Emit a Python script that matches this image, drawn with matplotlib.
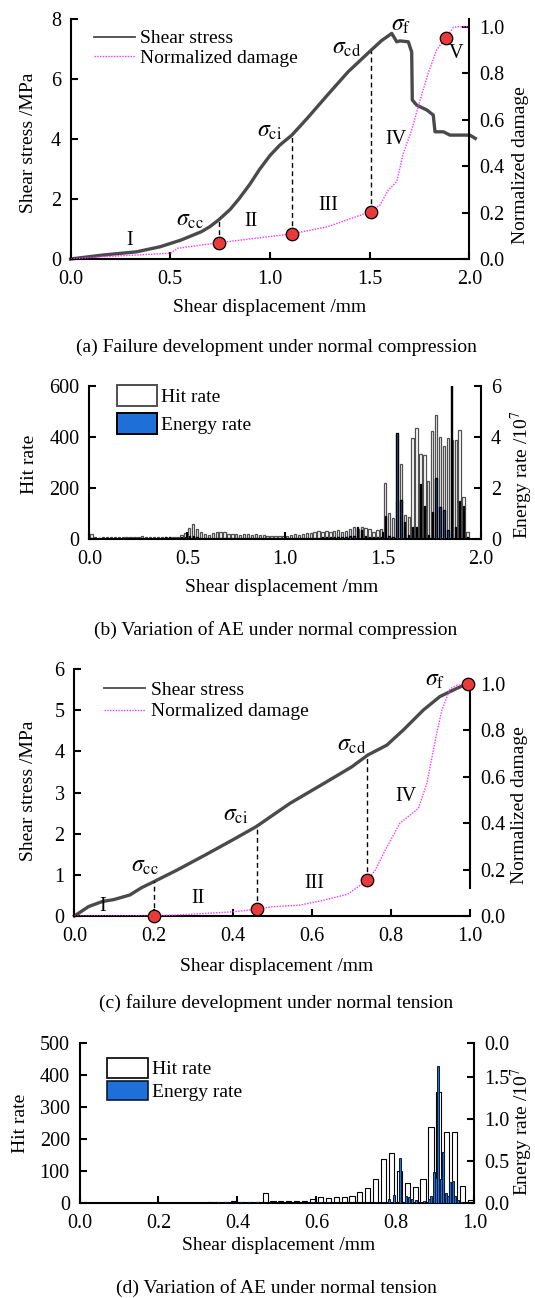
import numpy as np
import matplotlib
matplotlib.use('Agg')
import matplotlib.pyplot as plt
from matplotlib.lines import Line2D

plt.rcParams['font.family'] = ['Liberation Serif', 'DejaVu Serif']
plt.rcParams['mathtext.fontset'] = 'stix'
plt.rcParams['font.size'] = 14

# ---- (a) normal compression : shear stress and damage ----
disp_a = [0.0, 0.159, 0.331, 0.45, 0.553, 0.656, 0.699, 0.742, 0.80, 0.844, 0.90, 0.947,
          1.0, 1.05, 1.11, 1.187, 1.289, 1.392, 1.509, 1.56, 1.611, 1.636, 1.652, 1.694,
          1.711, 1.714, 1.736, 1.786, 1.819, 1.828, 1.87, 1.903, 2.003, 2.03]
stress_a = [0.0, 0.13, 0.24, 0.41, 0.63, 0.91, 1.08, 1.30, 1.65, 2.0, 2.5, 2.98,
            3.45, 3.8, 4.13, 4.69, 5.47, 6.24, 6.97, 7.28, 7.52, 7.24, 7.27, 7.24,
            6.9, 5.3, 5.13, 4.97, 4.8, 4.24, 4.24, 4.13, 4.13, 4.02]
dmg_disp_a = [0.0, 0.159, 0.35, 0.502, 0.536, 0.742, 1.11, 1.289, 1.505, 1.552, 1.594, 1.636,
              1.669, 1.711, 1.753, 1.794, 1.836, 1.883, 1.92, 1.945, 2.0]
dmg_a = [0.0, 0.01, 0.018, 0.025, 0.046, 0.07, 0.108, 0.139, 0.204, 0.232, 0.297, 0.333,
         0.455, 0.555, 0.684, 0.80, 0.90, 0.953, 0.997, 1.0, 1.0]
key_disp_a = [0.742, 1.11, 1.505, 1.883]
key_dmg_a = [0.07, 0.108, 0.204, 0.953]

# ---- (b) AE under normal compression ----
bins_b = np.round(np.arange(0.01, 1.94, 0.02), 2)
hits_b = [17, 5, 4, 5, 6, 6, 7, 6, 8, 8, 7, 8, 8, 9, 7, 6, 6, 7, 5, 6, 7, 5, 6,
          14, 22, 40, 58, 38, 25, 19, 16, 22, 27, 28, 25, 19, 17, 19, 16, 17, 18, 16, 17,
          14, 14, 12, 12, 11, 11, 12,
          10, 13, 17, 16, 17, 22, 24, 25, 29, 26, 30, 28, 31, 34, 28, 30, 37, 47, 39, 44,
          43, 38, 28, 33, 38,
          220, 99, 82, 145, 291, 93, 86, 396, 433, 332, 328, 227, 422, 485, 400, 363,
          393, 389, 389, 426, 165, 25]
energy_b = [0.03, 0.02, 0.02, 0.02, 0.02, 0.02, 0.02, 0.02, 0.02, 0.02, 0.02, 0.02, 0.02,
            0.02, 0.02, 0.02, 0.02, 0.02, 0.03, 0.08, 0.06, 0.04, 0.03,
            0.05, 0.08, 0.12, 0.10, 0.06, 0.04, 0.03, 0.03, 0.03, 0.03, 0.03, 0.03, 0.03,
            0.03, 0.03, 0.03, 0.03, 0.03, 0.03, 0.03, 0.03, 0.03, 0.03, 0.03, 0.03, 0.03, 0.04,
            0.04, 0.03, 0.03, 0.03, 0.03, 0.03, 0.04, 0.04, 0.04, 0.05, 0.05, 0.05, 0.05,
            0.06, 0.06, 0.07, 0.10, 0.12, 0.45, 0.35, 0.10, 0.08, 0.06, 0.05, 0.06,
            0.9, 0.1, 0.05, 4.16, 1.5, 0.67, 0.15, 0.47, 0.45, 2.14, 1.3, 0.15, 1.05, 2.37,
            1.25, 1.12, 0.35, 6.05, 0.47, 1.49, 1.3, 0.08]

# ---- (c) normal tension : shear stress and damage ----
disp_c = [0.0, 0.036, 0.07, 0.10, 0.14, 0.17, 0.20, 0.26, 0.33, 0.40, 0.459, 0.545,
          0.63, 0.70, 0.741, 0.789, 0.831, 0.881, 0.923, 0.966, 0.993]
stress_c = [0.0, 0.23, 0.35, 0.40, 0.51, 0.69, 0.83, 1.12, 1.48, 1.85, 2.17, 2.74,
            3.22, 3.62, 3.91, 4.15, 4.52, 5.0, 5.33, 5.53, 5.64]
dmg_disp_c = [0.0, 0.2, 0.3, 0.4, 0.46, 0.50, 0.57, 0.63, 0.69, 0.72, 0.74, 0.76, 0.785,
              0.822, 0.869, 0.89, 0.915, 0.928, 0.949, 0.966, 0.993]
dmg_c = [0.0, 0.0, 0.008, 0.018, 0.029, 0.04, 0.047, 0.068, 0.094, 0.13, 0.155, 0.198,
         0.284, 0.40, 0.464, 0.571, 0.787, 0.887, 0.98, 0.995, 1.0]
key_disp_c = [0.202, 0.46, 0.74, 0.993]
key_dmg_c = [0.0, 0.029, 0.155, 1.0]

# ---- (d) AE under normal tension ----
bins_d = np.round(np.arange(0.01, 1.0, 0.02), 2)
hits_d = [0] * 15 + [1, 3, 3, 4, 5, 3, 3, 4,
                     32, 6, 5, 6, 7, 6, 12,
                     20, 17, 20, 20, 22, 34, 48, 74, 138, 158,
                     100, 62, 49, 74, 237, 346, 223, 223, 54, 10]
energy_disp_d = [0.35, 0.37, 0.39, 0.41, 0.43, 0.45, 0.59, 0.61, 0.63, 0.75, 0.77, 0.785,
                 0.797, 0.812, 0.827, 0.835, 0.843, 0.852, 0.872, 0.885, 0.891, 0.898, 0.903,
                 0.909, 0.915, 0.921, 0.927, 0.933, 0.939, 0.945, 0.951, 0.958, 0.965]
energy_d = [0.01, 0.01, 0.01, 0.01, 0.01, 0.01, 0.01, 0.01, 0.01, 0.01, 0.01, 0.05,
            0.10, 0.54, 0.08, 0.07, 0.05, 0.03, 0.02, 0.05, 0.08, 0.37, 0.30,
            1.63, 0.28, 0.61, 0.12, 0.08, 0.25, 0.26, 0.08, 0.03, 0.01]
energy_ticks_d = [0.0, 0.5, 1.0, 1.5, 1.9]
energy_ticklabels_d = ['0.0', '0.5', '1.0', '1.5', '0.0']

STRESS_C = '#4a4a4a'
DMG_C = '#ff33ff'
RED = '#e8393b'
BLUE = '#1f6fd9'

fig = plt.figure(figsize=(5.35, 12.98), dpi=100)


def setup(rect, xlim, ylim, ylim2):
    ax = fig.add_axes(rect)
    tw = ax.twinx()
    ax.set_xlim(*xlim)
    ax.set_ylim(*ylim)
    tw.set_ylim(*ylim2)
    for a in (ax, tw):
        a.spines['top'].set_visible(False)
        for s in a.spines.values():
            s.set_linewidth(1.5)
        a.tick_params(direction='in', length=5, width=1.5, pad=7, labelsize=14.5)
    ax.spines['right'].set_visible(False)
    tw.spines['left'].set_visible(False)
    tw.spines['bottom'].set_visible(False)
    ax.tick_params(axis='x', pad=8)
    return ax, tw


def stage_plot(ax, tw, disp, stress, ddisp, dmg, kx, kd, stress_top, dmg_top):
    ax.plot(disp, stress, color=STRESS_C, lw=2.4, solid_joinstyle='round', clip_on=False)
    tw.plot(ddisp, dmg, color=DMG_C, lw=1.0, ls=(0, (1, 1)))
    # dashed drop lines from the stress curve to the damage points
    ks = np.interp(kx[:3], disp, stress)
    for x, d, s in zip(kx[:3], kd[:3], ks):
        ax.plot([x, x], [d / dmg_top * stress_top, s], color='black', lw=1.0,
                ls=(0, (3.5, 2.5)))
    tw.plot(kx, kd, 'o', ms=9, mfc=RED, mec='black', mew=0.9, clip_on=False, zorder=5)
    handles = [Line2D([], [], color=STRESS_C, lw=1.3),
               Line2D([], [], color=DMG_C, lw=1.0, ls=(0, (1, 1)))]
    return handles


def sig(ax, x, y, sub):
    ax.text(x, y, r'$\sigma_{\rm %s}$' % sub, fontsize=17, ha='center', va='center')


# (a)
ax, tw = setup([0.132, 0.80046, 0.7452, 0.1849], (0, 2), (0, 8), (0, 1.033))
h = stage_plot(ax, tw, disp_a, stress_a, dmg_disp_a, dmg_a, key_disp_a, key_dmg_a, 8, 1.033)
ax.set_xticks([0, 0.5, 1.0, 1.5, 2.0])
ax.set_xticklabels(['0.0', '0.5', '1.0', '1.5', '2.0'])
ax.set_yticks([0, 2, 4, 6, 8])
tw.set_yticks([0, 0.2, 0.4, 0.6, 0.8, 1.0])
tw.set_yticklabels(['0.0', '0.2', '0.4', '0.6', '0.8', '1.0'])
ax.set_xlabel('Shear displacement /mm')
ax.xaxis.set_label_coords(0.5, -0.165)
ax.set_ylabel('Shear stress /MPa')
ax.yaxis.set_label_coords(-0.085, 0.485)
tw.set_ylabel('Normalized damage')
tw.yaxis.set_label_coords(1.106, 0.39)
sig(ax, 0.60, 1.3, 'cc')
sig(ax, 1.0, 4.24, 'ci')
sig(ax, 1.384, 7.02, 'cd')
sig(ax, 1.658, 7.8, 'f')
for t, x, y in [('I', 0.296, 0.63), ('II', 0.904, 1.24), ('III', 1.293, 1.8),
                ('IV', 1.632, 3.97), ('V', 1.931, 6.86)]:
    ax.text(x, y, t, ha='center', va='center', fontsize=14.5)
tw.legend(h, ['Shear stress', 'Normalized damage'], loc='upper left',
          bbox_to_anchor=(0.058, 0.955), frameon=False, handlelength=2.1,
          handletextpad=0.3, labelspacing=0.1, borderpad=0, borderaxespad=0)
fig.text(0.516, 1 - 352 / 1298, '(a) Failure development under normal compression',
         ha='center', va='baseline', fontsize=14)

# (b)
ax, tw = setup([0.1671, 0.58498, 0.7323, 0.11787], (0, 2), (0, 600), (0, 6))
hb = ax.bar(bins_b, hits_b, width=0.012, color='white', edgecolor='#505050', lw=0.9)
eb = tw.bar(bins_b, energy_b, width=0.007, color=BLUE, edgecolor='black', lw=1.0)
ax.set_xticks([0, 0.5, 1.0, 1.5, 2.0])
ax.set_xticklabels(['0.0', '0.5', '1.0', '1.5', '2.0'])
ax.set_yticks([0, 200, 400, 600])
tw.set_yticks([0, 2, 4, 6])
ax.set_xlabel('Shear displacement /mm')
ax.xaxis.set_label_coords(0.49, -0.261)
ax.set_ylabel('Hit rate')
ax.yaxis.set_label_coords(-0.130, 0.488)
tw.set_ylabel(r'Energy rate /10$^7$')
tw.yaxis.set_label_coords(1.072, 0.416)
lg = tw.legend([hb, eb], ['Hit rate', 'Energy rate'], loc='upper left',
               bbox_to_anchor=(0.07, 1.005), frameon=False, handlelength=2.07,
               handleheight=1.3, handletextpad=0.2, labelspacing=0.35, borderpad=0,
               borderaxespad=0)
for p in lg.get_patches():
    p.set_linewidth(1.4)
fig.text(0.516, 1 - 635 / 1298, '(b) Variation of AE under normal compression',
         ha='center', va='baseline', fontsize=14)

# (c)
ax, tw = setup([0.1391, 0.2943, 0.74, 0.19029], (0, 1), (0, 6), (0, 1.065))
h = stage_plot(ax, tw, disp_c, stress_c, dmg_disp_c, dmg_c, key_disp_c, key_dmg_c, 6, 1.065)
tw.spines['right'].set_bounds(0.12, 1.0)
ax.set_xticks([0, 0.2, 0.4, 0.6, 0.8, 1.0])
ax.set_xticklabels(['0.0', '0.2', '0.4', '0.6', '0.8', '1.0'])
ax.set_yticks([0, 1, 2, 3, 4, 5, 6])
tw.set_yticks([0, 0.2, 0.4, 0.6, 0.8, 1.0])
tw.set_yticklabels(['0.0', '0.2', '0.4', '0.6', '0.8', '1.0'])
ax.set_xlabel('Shear displacement /mm')
ax.xaxis.set_label_coords(0.51, -0.169)
ax.set_ylabel('Shear stress /MPa')
ax.yaxis.set_label_coords(-0.0955, 0.507)
tw.set_ylabel('Normalized damage')
tw.yaxis.set_label_coords(1.103, 0.449)
sig(ax, 0.178, 1.2, 'cc')
sig(ax, 0.407, 2.45, 'ci')
sig(ax, 0.70, 4.15, 'cd')
sig(ax, 0.911, 5.73, 'f')
for t, x, y in [('I', 0.07, 0.23), ('II', 0.312, 0.43), ('III', 0.605, 0.79),
                ('IV', 0.838, 2.9)]:
    ax.text(x, y, t, ha='center', va='center', fontsize=14.5)
tw.legend(h, ['Shear stress', 'Normalized damage'], loc='upper left',
          bbox_to_anchor=(0.075, 0.95), frameon=False, handlelength=2.1,
          handletextpad=0.3, labelspacing=0.2, borderpad=0, borderaxespad=0)
fig.text(0.516, 1 - 1008 / 1298, '(c) failure development under normal tension',
         ha='center', va='baseline', fontsize=14)

# (d)
ax, tw = setup([0.1486, 0.07319, 0.7381, 0.12304], (0, 1), (0, 500), (0, 1.9))
hb = ax.bar(bins_d, hits_d, width=0.013, color='white', edgecolor='black', lw=0.8)
eb = tw.bar(energy_disp_d, energy_d, width=0.005, color=BLUE, edgecolor='#0a1a33', lw=0.7)
ax.set_xticks([0, 0.2, 0.4, 0.6, 0.8, 1.0])
ax.set_xticklabels(['0.0', '0.2', '0.4', '0.6', '0.8', '1.0'])
ax.set_yticks([0, 100, 200, 300, 400, 500])
tw.set_yticks(energy_ticks_d)
tw.set_yticklabels(energy_ticklabels_d)
ax.set_xlabel('Shear displacement /mm')
ax.xaxis.set_label_coords(0.503, -0.213)
ax.set_ylabel('Hit rate')
ax.yaxis.set_label_coords(-0.128, 0.499)
tw.set_ylabel(r'Energy rate /10$^7$')
tw.yaxis.set_label_coords(1.088, 0.446)
lg = tw.legend([hb, eb], ['Hit rate', 'Energy rate'], loc='upper left',
               bbox_to_anchor=(0.069, 0.91), frameon=False, handlelength=2.1,
               handleheight=1.2, handletextpad=0.25, labelspacing=0.12, borderpad=0,
               borderaxespad=0)
for p in lg.get_patches():
    p.set_linewidth(1.2)
fig.text(0.516, 1 - 1293 / 1298, '(d) Variation of AE under normal tension',
         ha='center', va='baseline', fontsize=14)

fig.savefig('out.png', dpi=100)
